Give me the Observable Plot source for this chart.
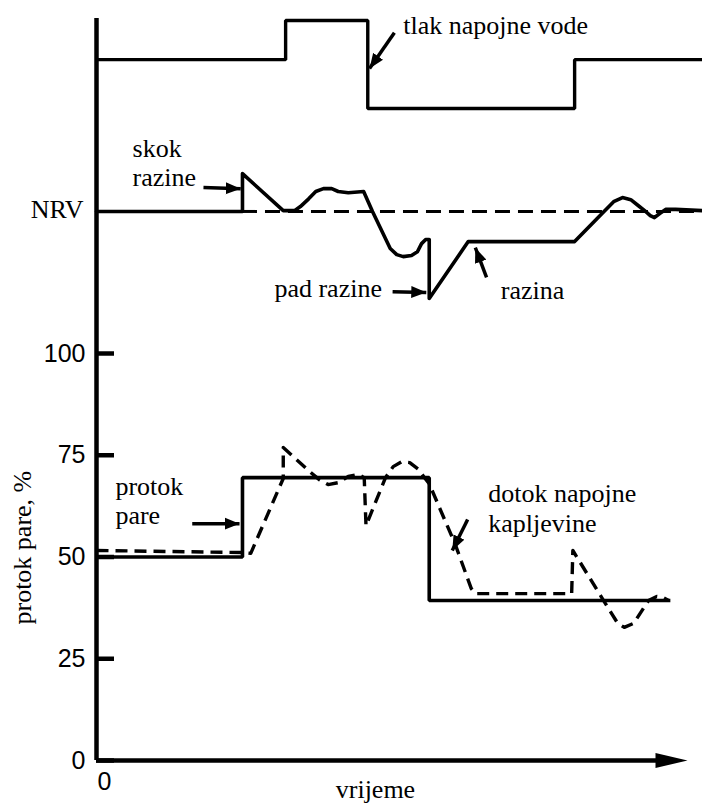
<!DOCTYPE html>
<html>
<head>
<meta charset="utf-8">
<script src="https://cdn.jsdelivr.net/npm/d3@7"></script>
<script src="https://cdn.jsdelivr.net/npm/@observablehq/plot@0.6"></script>
<style>
  html, body { margin: 0; padding: 0; background: #fff; }
  #chart svg { display: block; }
</style>
</head>
<body>
<div id="chart"></div>
<script>
// ---- data (t = time, arbitrary 0..100; v = value on the y scale) ----
const yTicks = [0, 25, 50, 75, 100];

// upper panel: feed-water pressure (tlak napojne vode)
const tlak = [
  [0, 172.2], [32.0, 172.2], [32.0, 181.8], [45.9, 181.8], [45.9, 160.2],
  [80.9, 160.2], [80.9, 172.2], [102.5, 172.2]
];

// level (razina)
const razina = [
  [0, 134.9], [24.7, 134.9], [24.7, 144.2], [31.6, 135.1], [33.5, 135.1], [34.5, 136.1],
  [35.9, 138.0], [37.1, 139.8], [38.4, 140.5], [39.8, 140.5], [40.9, 139.8], [42.6, 139.5],
  [45.2, 139.8], [46.7, 134.9], [49.7, 125.8], [50.8, 124.3], [51.9, 123.8], [53.3, 124.1],
  [54.3, 125.0], [55.0, 127.0], [55.7, 128.0], [56.3, 128.0], [56.3, 113.5], [62.9, 127.5],
  [80.9, 127.5], [86.0, 135.1], [87.5, 137.3], [89.0, 138.3], [90.4, 137.8], [91.7, 136.3],
  [92.9, 134.9], [93.7, 133.9], [94.4, 133.4], [95.3, 134.4], [96.3, 135.4], [98.0, 135.4],
  [102.5, 135.1]
];

// nominal level (NRV), dashed reference
const nrvLevel = 134.9;
const nrvSpan = [24.7, 102.5];

// steam flow (protok pare)
const protok = [
  [0, 50], [24.7, 50], [24.7, 69.5], [56.3, 69.5], [56.3, 39.3], [97.1, 39.3]
];

// feed-liquid inflow (dotok napojne kapljevine)
const dotok = [
  [0, 51.6], [24.7, 51.1], [26.1, 50.9], [31.6, 69.3], [31.6, 76.9], [35.9, 71.2],
  [37.7, 69.0], [39.2, 67.8], [41.0, 68.3], [42.6, 69.8], [44.3, 70.3], [45.3, 69.5],
  [45.6, 57.7], [48.9, 69.5], [50.2, 72.2], [51.6, 73.4], [53.0, 73.2], [54.5, 71.5],
  [55.5, 69.5], [56.3, 68.0], [60.7, 53.1], [63.4, 42.3], [64.1, 41.0], [80.4, 41.0],
  [80.6, 51.6], [85.8, 39.3], [88.2, 33.7], [89.3, 32.7], [90.9, 33.7], [92.1, 36.4],
  [93.4, 39.3], [94.8, 40.3], [95.8, 40.1], [96.8, 39.3]
];

// annotation labels
const labels = [
  {text: "tlak napojne vode", t: 51.9, v: 180.6, anchor: "start"},
  {text: "skok", t: 6.1, v: 150.3, anchor: "start"},
  {text: "razine", t: 6.1, v: 143.2, anchor: "start"},
  {text: "NRV", t: -2.2, v: 135.4, anchor: "end"},
  {text: "pad razine", t: 30.1, v: 116.0, anchor: "start"},
  {text: "razina", t: 68.4, v: 115.5, anchor: "start"},
  {text: "protok", t: 3.2, v: 67.3, anchor: "start"},
  {text: "pare", t: 3.2, v: 60.2, anchor: "start"},
  {text: "dotok napojne", t: 66.3, v: 65.6, anchor: "start"},
  {text: "kapljevine", t: 66.3, v: 58.2, anchor: "start"},
  {text: "vrijeme", t: 47.2, v: -7.1, anchor: "middle"}
];

// annotation arrows (tail -> tip)
const pointers = [
  {t1: 50.4, v1: 178.8, t2: 46.2, v2: 170.0},
  {t1: 18.1, v1: 140.8, t2: 24.4, v2: 140.5},
  {t1: 50.1, v1: 115.2, t2: 55.8, v2: 115.0},
  {t1: 66.0, v1: 118.7, t2: 64.1, v2: 126.0},
  {t1: 16.2, v1: 58.2, t2: 24.2, v2: 58.2},
  {t1: 62.8, v1: 59.2, t2: 60.2, v2: 51.6}
];

const yAxisTop = 182.3;
const xAxisEnd = 100;
const xOriginLabel = [{text: "0", t: 1.35, v: -5.4}];
const yTitle = [{text: "protok pare, %", t: -12.5, v: 52.3}];

// ---- drawing ----
const serif = "Liberation Serif, Times New Roman, Times, serif";
const sans = "Liberation Sans, Arial, Helvetica, sans-serif";
const toObj = (a) => a.map(([t, v]) => ({t, v}));

const arrowSymbol = {
  draw(ctx) {
    ctx.moveTo(0, 0);
    ctx.lineTo(-32, -7.5);
    ctx.lineTo(-32, 7.5);
    ctx.closePath();
  }
};

function headMarker(color, context) {
  const doc = (context && context.document) || document;
  const ns = "http://www.w3.org/2000/svg";
  const m = doc.createElementNS(ns, "marker");
  m.setAttribute("viewBox", "-15 -6.5 15 13");
  m.setAttribute("markerWidth", 15);
  m.setAttribute("markerHeight", 13);
  m.setAttribute("markerUnits", "userSpaceOnUse");
  m.setAttribute("orient", "auto");
  m.setAttribute("refX", 0);
  m.setAttribute("refY", 0);
  const p = doc.createElementNS(ns, "path");
  p.setAttribute("d", "M-15,-6L0,0L-15,6Z");
  p.setAttribute("fill", color);
  p.setAttribute("stroke", "none");
  m.appendChild(p);
  return m;
}

function labelMark(anchor) {
  return Plot.text(labels.filter((d) => d.anchor === anchor), {
    x: "t", y: "v", text: "text", textAnchor: anchor, fontSize: 26, fontFamily: serif, fill: "black"
  });
}

function build(useMarker) {
  const pointerMark = useMarker
    ? Plot.link(pointers, {x1: "t1", y1: "v1", x2: "t2", y2: "v2", stroke: "black", strokeWidth: 3.5, strokeLinecap: "butt", markerEnd: headMarker})
    : Plot.arrow(pointers, {x1: "t1", y1: "v1", x2: "t2", y2: "v2", stroke: "black", strokeWidth: 3.5, headLength: 12, headAngle: 50});
  return Plot.plot({
    width: 702,
    height: 803,
    marginLeft: 96,
    marginRight: 15,
    marginTop: 0,
    marginBottom: 43,
    x: {domain: [0, 100], range: [96, 687], axis: null},
    y: {domain: [0, 100], range: [760, 353]},
    style: {background: "#fff", color: "#000", fontFamily: serif, overflow: "visible"},
    marks: [
      // axes
      Plot.axisY(yTicks, {tickSize: 0, tickPadding: 11, fontSize: 25, fontFamily: sans, label: null}),
      Plot.ruleY(yTicks, {x1: 0, x2: 3.05, stroke: "black", strokeWidth: 4.5}),
      Plot.ruleX([0], {y1: 0, y2: yAxisTop, stroke: "black", strokeWidth: 4.5}),
      Plot.ruleY([0], {x1: 0, x2: 95, stroke: "black", strokeWidth: 4.5}),
      Plot.dot([xAxisEnd], {x: (d) => d, y: 0, symbol: arrowSymbol, fill: "black", stroke: "none", r: 10}),
      // series
      Plot.line(toObj(tlak), {x: "t", y: "v", stroke: "black", strokeWidth: 3.4, strokeLinejoin: "miter", strokeLinecap: "butt"}),
      Plot.ruleY([nrvLevel], {x1: nrvSpan[0], x2: nrvSpan[1], stroke: "black", strokeWidth: 3, strokeDasharray: "15,8"}),
      Plot.line(toObj(razina), {x: "t", y: "v", stroke: "black", strokeWidth: 3.6, strokeLinejoin: "round"}),
      Plot.line(toObj(protok), {x: "t", y: "v", stroke: "black", strokeWidth: 3.6, strokeLinejoin: "miter", strokeLinecap: "butt"}),
      Plot.line(toObj(dotok), {x: "t", y: "v", stroke: "black", strokeWidth: 3.4, strokeDasharray: "12,7", strokeLinecap: "butt"}),
      // annotations
      pointerMark,
      labelMark("start"),
      labelMark("end"),
      labelMark("middle"),
      Plot.text(xOriginLabel, {x: "t", y: "v", text: "text", fontSize: 25, fontFamily: sans, fill: "black"}),
      Plot.text(yTitle, {x: "t", y: "v", text: "text", rotate: -90, fontSize: 26, fontFamily: serif, fill: "black"})
    ]
  });
}

let chart;
try {
  chart = build(true);
} catch (e) {
  chart = build(false);
}
document.getElementById("chart").appendChild(chart);
</script>
</body>
</html>
